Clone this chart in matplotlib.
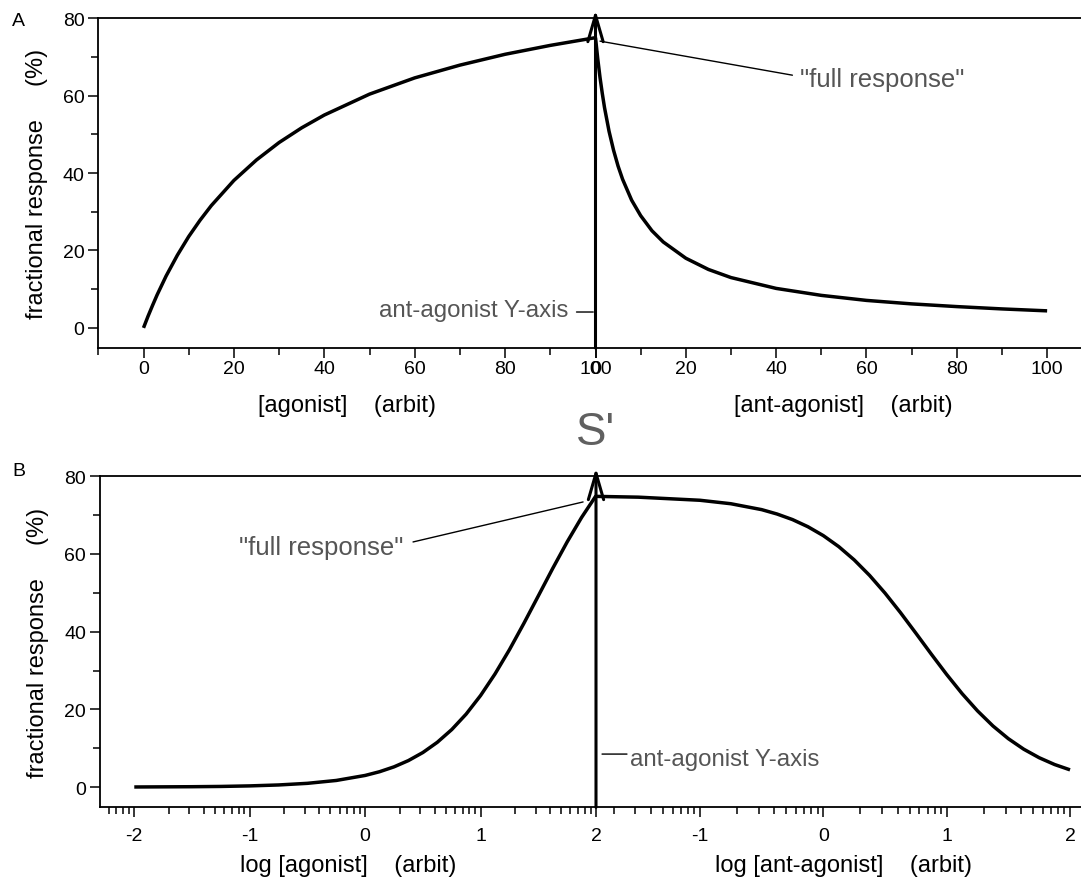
import numpy as np
import matplotlib
matplotlib.use("Agg")
import matplotlib.pyplot as plt
from matplotlib.ticker import MultipleLocator, LogLocator, FuncFormatter, NullFormatter
from matplotlib.patches import ArrowStyle

plt.rcParams['font.family'] = ['Liberation Sans', 'DejaVu Sans']
plt.rcParams['axes.unicode_minus'] = False

# ---- dose-response data -------------------------------------------------
# linear doses (panel A)
agonist_conc = [0, 1, 2, 3, 5, 7.5, 10, 12.5, 15, 20, 25, 30, 35, 40, 50, 60, 70, 80, 90, 100]
agonist_resp = [0.0, 3.0, 5.8, 8.5, 13.4, 18.8, 23.6, 27.8, 31.6, 38.1, 43.4, 47.9, 51.7, 55.0,
                60.4, 64.6, 67.9, 70.7, 73.0, 75.0]

antagonist_conc = [0, 0.5, 1, 1.5, 2, 3, 4, 5, 6, 8, 10, 12.5, 15, 20, 25, 30, 40, 50, 60, 70, 80, 90, 100]
antagonist_resp = [75.0, 69.5, 64.7, 60.6, 56.9, 50.8, 45.9, 41.8, 38.4, 33.0, 29.0, 25.1, 22.2,
                   18.0, 15.1, 13.0, 10.2, 8.4, 7.1, 6.2, 5.5, 4.9, 4.4]

# log doses (panel B)
log_agonist = [-2.0, -1.5, -1.25, -1.0, -0.75, -0.5, -0.25, 0.0, 0.125, 0.25, 0.375, 0.5, 0.625,
               0.75, 0.875, 1.0, 1.125, 1.25, 1.375, 1.5, 1.625, 1.75, 1.875, 2.0]
log_agonist_resp = [0.03, 0.10, 0.17, 0.31, 0.55, 0.97, 1.71, 3.0, 3.96, 5.21, 6.83, 8.90, 11.53,
                    14.80, 18.79, 23.57, 29.12, 35.36, 42.14, 49.2, 56.29, 63.1, 69.4, 75.0]

log_antagonist = [-1.84, -1.5, -1.0, -0.75, -0.5, -0.375, -0.25, -0.125, 0.0, 0.125, 0.25, 0.375,
                  0.5, 0.625, 0.75, 0.875, 1.0, 1.125, 1.25, 1.375, 1.5, 1.625, 1.75, 1.875, 2.0]
log_antagonist_resp = [74.83, 74.63, 73.83, 72.94, 71.42, 70.29, 68.86, 67.02, 64.73, 61.90, 58.49,
                       54.49, 49.94, 44.93, 39.63, 34.24, 28.99, 24.06, 19.62, 15.74, 12.46, 9.75,
                       7.56, 5.81, 4.44]

# ---- layout ---------------------------------------------------------------
W, H = 1081, 879
fig = plt.figure(figsize=(W / 100, H / 100), dpi=100)


def box(x0, x1, ytop, ybot):
    return [x0 / W, 1 - ybot / H, (x1 - x0) / W, (ybot - ytop) / H]


axA_l = fig.add_axes(box(98.3, 595.5, 19.3, 349.0))
axA_r = fig.add_axes(box(595.5, 1081, 19.3, 349.0))
axB_l = fig.add_axes(box(100.0, 596.0, 477.3, 808.3))
axB_r = fig.add_axes(box(596.0, 1081, 477.3, 808.3))

TICK_FS = 14
LABEL_FS = 17
QUOTE_FS = 18.5
NOTE_FS = 17.3
GREY = '#555555'
CURVE_LW = 2.5
SPINE_LW = 1.3

for ax in (axA_l, axA_r, axB_l, axB_r):
    ax.set_ylim(-5.2, 80)
    ax.spines['right'].set_visible(False)
    for s in ('top', 'bottom', 'left'):
        ax.spines[s].set_linewidth(SPINE_LW)
    ax.tick_params(axis='both', which='major', direction='out', length=7, width=1.1,
                   labelsize=TICK_FS)
    ax.tick_params(axis='both', which='minor', direction='out', length=5, width=1.1)
    ax.patch.set_alpha(0)

for ax in (axA_r, axB_r):
    ax.spines['left'].set_visible(False)
    ax.tick_params(axis='y', which='both', left=False, labelleft=False)

for ax in (axA_l, axB_l):
    ax.yaxis.set_major_locator(MultipleLocator(20))
    ax.yaxis.set_minor_locator(MultipleLocator(10))
    ax.tick_params(axis='y', which='major', pad=3.0)
    ax.set_ylabel('fractional response     (%)', fontsize=LABEL_FS, va='center')

axA_l.yaxis.set_label_coords(-0.1227, 0.5)
axB_l.yaxis.set_label_coords(-0.125, 0.5)

# ---- panel A: linear concentration axes ---------------------------------
axA_l.plot(agonist_conc, agonist_resp, color='black', lw=CURVE_LW, clip_on=False,
           solid_capstyle='butt')
axA_r.plot(antagonist_conc, antagonist_resp, color='black', lw=CURVE_LW, clip_on=False,
           solid_capstyle='butt')
axA_l.set_xlim(-10, 100)
axA_r.set_xlim(0, 107.5)
for ax in (axA_l, axA_r):
    ax.xaxis.set_major_locator(MultipleLocator(20))
    ax.xaxis.set_minor_locator(MultipleLocator(10))
    ax.tick_params(axis='x', which='major', pad=2.0)

axA_l.set_xlabel('[agonist]    (arbit)', fontsize=LABEL_FS, va='center')
axA_r.set_xlabel('[ant-agonist]    (arbit)', fontsize=LABEL_FS, va='center')
axA_l.xaxis.set_label_coords(0.5, -57 / 329.7)
axA_r.xaxis.set_label_coords(0.51, -57 / 329.7)

# ---- panel B: log concentration axes ------------------------------------
axB_l.plot(10.0 ** np.array(log_agonist), log_agonist_resp, color='black', lw=CURVE_LW,
           clip_on=False, solid_capstyle='butt')
axB_r.plot(10.0 ** np.array(log_antagonist), log_antagonist_resp, color='black', lw=CURVE_LW,
           clip_on=False, solid_capstyle='butt')
axB_l.set_xscale('log')
axB_r.set_xscale('log')
axB_l.set_xlim(10 ** -2.297, 100)
axB_r.set_xlim(10 ** -1.843, 10 ** 2.089)
log_fmt = FuncFormatter(lambda v, pos: f"{int(round(np.log10(v)))}")
for ax in (axB_l, axB_r):
    ax.xaxis.set_major_locator(LogLocator(base=10, numticks=20))
    ax.xaxis.set_minor_locator(LogLocator(base=10, subs=np.arange(2, 10), numticks=40))
    ax.xaxis.set_major_formatter(log_fmt)
    ax.xaxis.set_minor_formatter(NullFormatter())
    ax.tick_params(axis='x', which='major', pad=7.0)

axB_l.set_xlabel('log [agonist]    (arbit)', fontsize=LABEL_FS, va='center')
axB_r.set_xlabel('log [ant-agonist]    (arbit)', fontsize=LABEL_FS, va='center')
axB_l.xaxis.set_label_coords(0.5, -58 / 331.0)
axB_r.xaxis.set_label_coords(0.51, -58 / 331.0)

# ---- ant-agonist Y axis drawn as an upward arrow ---------------------------
arrow = ArrowStyle('->', head_length=1.9, head_width=0.55)
for ax in (axA_r, axB_r):
    ax.annotate('', xy=(0, 82.2), xytext=(0, -5.2),
                xycoords=('axes fraction', 'data'), textcoords=('axes fraction', 'data'),
                arrowprops=dict(arrowstyle=arrow, lw=2.2, color='black', mutation_scale=10,
                                shrinkA=0, shrinkB=0),
                annotation_clip=False)

thin = dict(arrowstyle='-', lw=1.0, color='black', shrinkA=0, shrinkB=0)

# panel A notes
axA_r.annotate('', xy=(1.0, 74.1), xytext=(43.6, 65.3), arrowprops=thin, annotation_clip=False)
axA_r.text(45.3, 64.3, '"full response"', fontsize=QUOTE_FS, color=GREY, ha='left', va='center')
axA_l.annotate('', xy=(99.5, 4.1), xytext=(95.8, 4.1), arrowprops=thin, annotation_clip=False)
axA_l.text(94.0, 3.15, 'ant-agonist Y-axis', fontsize=NOTE_FS, color=GREY, ha='right',
           va='baseline')

# panel B notes
axB_l.annotate('', xy=(10 ** 1.888, 73.4), xytext=(10 ** 0.415, 63.1), arrowprops=thin,
               annotation_clip=False)
axB_l.text(10 ** 0.328, 60.1, '"full response"', fontsize=QUOTE_FS, color=GREY, ha='right',
           va='baseline')
axB_r.annotate('', xy=(10 ** -1.794, 8.5), xytext=(10 ** -1.592, 8.5), arrowprops=thin,
               annotation_clip=False)
axB_r.text(10 ** -1.567, 5.7, 'ant-agonist Y-axis', fontsize=NOTE_FS, color=GREY, ha='left',
           va='baseline')

# ---- figure texts ---------------------------------------------------------
fig.text(596 / W, 1 - 433 / H, "S'", fontsize=33, color='#606060', ha='center', va='center')
fig.text(18.5 / W, 1 - 21.5 / H, 'A', fontsize=14, ha='center', va='center')
fig.text(18.5 / W, 1 - 471.5 / H, 'B', fontsize=14, ha='center', va='center')

fig.savefig('out.png', dpi=100)
